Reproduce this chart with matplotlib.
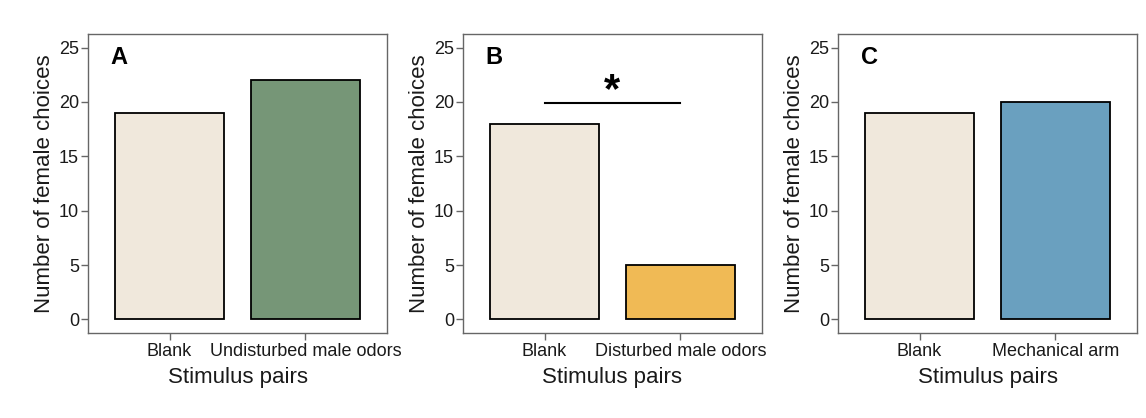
import matplotlib
matplotlib.use("Agg")
import matplotlib.pyplot as plt

plt.rcParams['font.family'] = ['Liberation Sans', 'DejaVu Sans']

panel_labels = ["A", "B", "C"]
categories_A = ["Blank", "Undisturbed male odors"]
categories_B = ["Blank", "Disturbed male odors"]
categories_C = ["Blank", "Mechanical arm"]
values_A = [19, 22]
values_B = [18, 5]
values_C = [19, 20]
colors_A = ["#F0E8DC", "#769677"]
colors_B = ["#F0E8DC", "#F0BA55"]
colors_C = ["#F0E8DC", "#6AA0BF"]
yticks = [0, 5, 10, 15, 20, 25]
sig_y = 19.9
sig_text = "*"

panels = [
    (categories_A, values_A, colors_A),
    (categories_B, values_B, colors_B),
    (categories_C, values_C, colors_C),
]

fig = plt.figure(figsize=(11.46, 4.18), dpi=100)
lefts = [88/1146, 463/1146, 838/1146]
w = 299/1146
b = 1 - 333/418
h = (333 - 34)/418
frame_col = "#666666"
text_col = "#1a1a1a"

for i, (cats, vals, cols) in enumerate(panels):
    ax = fig.add_axes([lefts[i], b, w, h])
    x = [1, 2]
    ax.bar(x, vals, width=0.8, color=cols, edgecolor="black", linewidth=1.3, zorder=2)
    ax.set_xlim(0.4, 2.6)
    ax.set_ylim(-1.25, 26.25)
    ax.set_xticks(x)
    ax.set_xticklabels(cats, fontsize=13, color=text_col)
    ax.set_yticks(yticks)
    ax.set_yticklabels([str(t) for t in yticks], fontsize=13, color=text_col)
    ax.tick_params(axis='both', direction='out', length=5, width=1, color=frame_col)
    ax.tick_params(axis='x', pad=2)
    ax.tick_params(axis='y', pad=1.5)
    for s in ax.spines.values():
        s.set_color(frame_col)
        s.set_linewidth(1)
    ax.set_xlabel("Stimulus pairs", fontsize=16, color=text_col, labelpad=5)
    ax.set_ylabel("Number of female choices", fontsize=16, color=text_col, labelpad=3)
    ax.text(0.63, 24.1, panel_labels[i], fontsize=17, fontweight='bold',
            ha='center', va='center')
    if i == 1:
        ax.plot([1, 2], [sig_y, sig_y], color="black", linewidth=1.5)
        ax.text(1.5, 22.8, sig_text, fontsize=30, fontweight='bold', ha='center', va='top')

fig.savefig("out.png", dpi=100)
